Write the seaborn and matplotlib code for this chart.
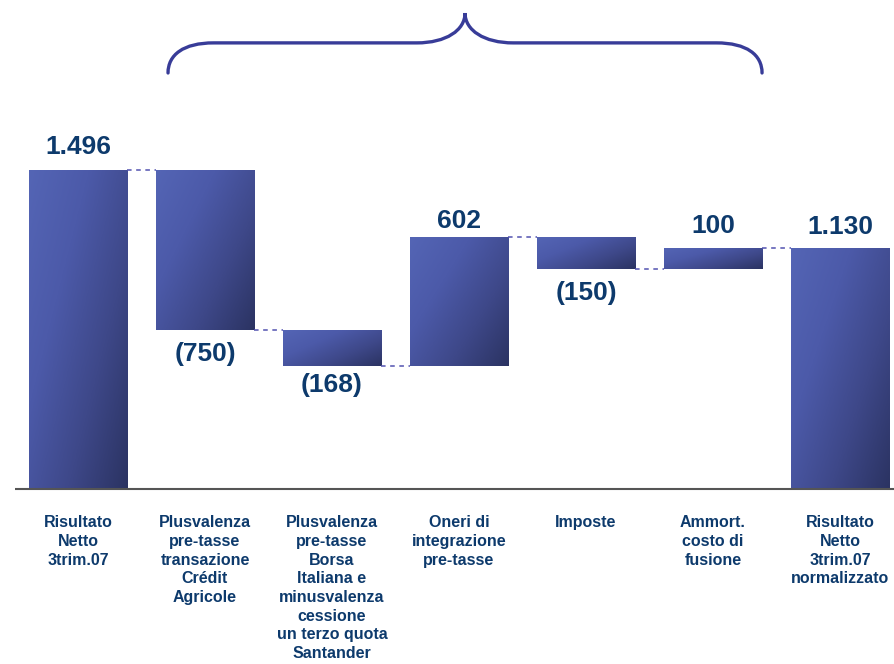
import numpy as np
import pandas as pd
import matplotlib
matplotlib.use("Agg")
import matplotlib.pyplot as plt
import seaborn as sns
from matplotlib.path import Path
from matplotlib.patches import PathPatch
from matplotlib.colors import LinearSegmentedColormap

# --- data -------------------------------------------------------------
categories = [
    "Risultato\nNetto\n3trim.07",
    "Plusvalenza\npre-tasse\ntransazione\nCrédit\nAgricole",
    "Plusvalenza\npre-tasse\nBorsa\nItaliana e\nminusvalenza\ncessione\nun terzo quota\nSantander",
    "Oneri di\nintegrazione\npre-tasse",
    "Imposte",
    "Ammort.\ncosto di\nfusione",
    "Risultato\nNetto\n3trim.07\nnormalizzato",
]
values = [1496, -750, -168, 602, -150, 100, 1130]
is_total = [True, False, False, False, False, False, True]

# label distance from bar end, in y units
label_gap = [108, 112, 90, 75, 112, 104, 100]

# --- waterfall geometry from the values -------------------------------
bottoms, spans, levels = [], [], []
running = 0
for v, tot in zip(values, is_total):
    if tot:
        bottoms.append(0)
        spans.append(v)
        running = v
    else:
        lo = min(running, running + v)
        bottoms.append(lo)
        spans.append(abs(v))
        running += v
    levels.append(running)


def fmt(v):
    s = f"{abs(v):,}".replace(",", ".")
    return f"({s})" if v < 0 else s


sns.set_style("white")
plt.rcParams["font.family"] = ["Liberation Sans", "DejaVu Sans"]

text_col = "#0d3a6c"
brace_col = "#383c98"
dash_col = "#5252b0"

fig = plt.figure(figsize=(8.94, 6.64), dpi=100)
ax = fig.add_axes([0, 0, 1, 1])

df = pd.DataFrame({"cat": categories, "span": spans})
bar_w = 0.772
sns.barplot(data=df, x="cat", y="span", order=categories, width=bar_w,
            color="#4a58a8", saturation=1, errorbar=None, ax=ax)

# gradient fill for each bar
grad_cmap = LinearSegmentedColormap.from_list(
    "bar_grad", ["#5465b5", "#4c5aa9", "#3e4889", "#2b3362"])
gx = np.linspace(0, 1, 120)
gy = np.linspace(0, 1, 120)
GX, GY = np.meshgrid(gx, gy)
grad = 0.55 * GX + 0.45 * GY  # row 0 = top of bar

for patch, b, s in zip(ax.patches, bottoms, spans):
    patch.set_y(b)
    patch.set_height(s)
    patch.set_facecolor("none")
    patch.set_edgecolor("none")
    x0 = patch.get_x()
    w = patch.get_width()
    im = ax.imshow(grad, cmap=grad_cmap, vmin=0, vmax=1, aspect="auto",
                   extent=(x0, x0 + w, b, b + s), origin="upper",
                   interpolation="bilinear", zorder=2)
    im.set_clip_path(patch)

ax.set_xlim(-0.614, 6.425)
ax.set_ylim(-820, 2292)

# dashed connectors between consecutive bars
for i in range(len(values) - 1):
    lvl = levels[i]
    x_start = i + bar_w / 2
    x_end = i + 1 - bar_w / 2
    ax.plot([x_start, x_end], [lvl, lvl], linestyle=(0, (3, 3)),
            color=dash_col, lw=1.1, zorder=3)

# baseline
ax.plot([-0.496, 6.425], [0, 0], color="#555555", lw=1.5, zorder=4,
        solid_capstyle="butt")

# value labels
for i, (v, b, s, g) in enumerate(zip(values, bottoms, spans, label_gap)):
    y = b + s + g if v >= 0 else b - g
    ax.text(i, y, fmt(v), ha="center", va="center",
            fontsize=19, fontweight="bold", color=text_col, zorder=5)

# category labels
for i, c in enumerate(categories):
    ax.text(i, -122, c, ha="center", va="top", fontsize=11.5,
            fontweight="bold", color=text_col, linespacing=1.31)

# curly brace spanning the bridge items
xl, xr = 0.709, 5.386
xm = (xl + xr) / 2
yb, yh, yt = 1950, 2091, 2231
verts = [
    (xl, yb), (xl, 2035), (xl + 0.12, yh), (xl + 0.36, yh),
    (xm - 0.38, yh),
    (xm - 0.15, yh), (xm, 2150), (xm, yt),
    (xm, 2150), (xm + 0.15, yh), (xm + 0.38, yh),
    (xr - 0.36, yh),
    (xr - 0.12, yh), (xr, 2035), (xr, yb),
]
codes = [Path.MOVETO, Path.CURVE4, Path.CURVE4, Path.CURVE4,
         Path.LINETO,
         Path.CURVE4, Path.CURVE4, Path.CURVE4,
         Path.CURVE4, Path.CURVE4, Path.CURVE4,
         Path.LINETO,
         Path.CURVE4, Path.CURVE4, Path.CURVE4]
ax.add_patch(PathPatch(Path(verts, codes), facecolor="none",
                       edgecolor=brace_col, lw=2.4, capstyle="round",
                       zorder=5))

ax.set_axis_off()
fig.savefig("out.png", dpi=100, facecolor="white")
